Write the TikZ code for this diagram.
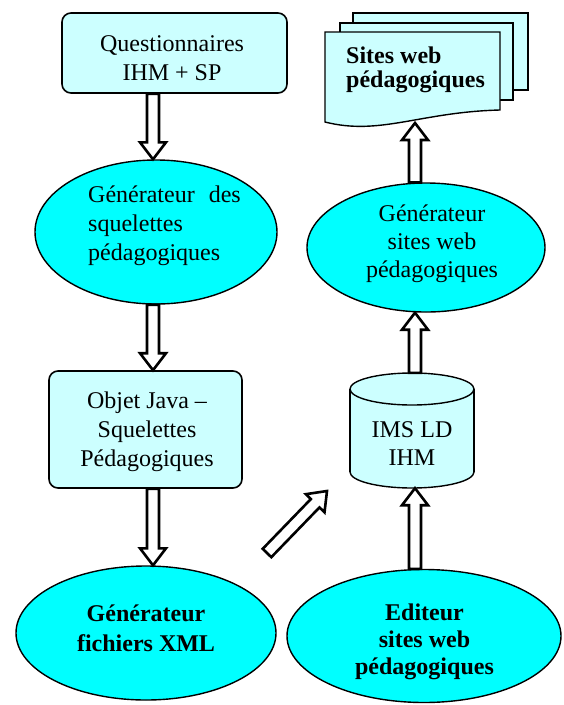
\documentclass[tikz,border=0pt]{standalone}
\usepackage{fontspec}
\setmainfont{Liberation Serif}
\usetikzlibrary{calc,shapes.geometric}
\definecolor{palecyan}{RGB}{204,255,255}
\definecolor{aqua}{RGB}{0,255,255}
\tikzset{
  box/.style={draw, line width=1.6pt, fill=palecyan, rounded corners=9pt},
  oval/.style={ellipse, draw, line width=1.4pt, fill=aqua},
  page/.style={draw, line width=1.4pt, fill=palecyan},
  txt/.style={font=\fontsize{24}{29}\selectfont, align=center, inner sep=0pt},
  bold/.style={txt, font=\fontsize{24}{28}\selectfont\bfseries},
  hollow/.style={draw, line width=2.6pt, fill=white, miter limit=20,
    to path={
      -- ($(\tikztostart)!6pt!90:(\tikztotarget)$)
      -- ($(\tikztotarget)!17pt!(\tikztostart)!6pt!90:(\tikztotarget)$)
      -- ($(\tikztotarget)!17pt!(\tikztostart)!13pt!90:(\tikztotarget)$)
      -- (\tikztotarget)
      -- ($(\tikztotarget)!17pt!(\tikztostart)!13pt!-90:(\tikztotarget)$)
      -- ($(\tikztotarget)!17pt!(\tikztostart)!6pt!-90:(\tikztotarget)$)
      -- ($(\tikztostart)!6pt!-90:(\tikztotarget)$)
      -- cycle}}
}
\begin{document}
\begin{tikzpicture}[x=1pt,y=-1pt]
  \useasboundingbox (0,0) rectangle (563,705);
  \coordinate (lcol) at (153,0);
  \coordinate (rcol) at (415,0);

  \node[box, minimum width=225pt, minimum height=80pt] (q) at (174.5,53) {};
  \node[oval, minimum width=242pt, minimum height=144pt] (gsq) at (156,232) {};
  \node[box, minimum width=193pt, minimum height=117pt] (oj) at (145.5,429.5) {};
  \node[oval, minimum width=260pt, minimum height=134pt] (gx) at (146,633) {};
  \node[oval, minimum width=274pt, minimum height=133pt] (ed) at (424,636) {};
  \node[oval, minimum width=238pt, minimum height=129pt] (gw) at (426,247.5) {};

  \draw[page] (412,472) ellipse (62 and 16);
  \fill[palecyan] (350,389) rectangle (474,472);
  \draw[line width=1.4pt] (350,389) -- (350,472) (474,389) -- (474,472);
  \draw[page] (412,389) ellipse (62 and 16);
  \node[minimum width=124pt, minimum height=115pt] (ims) at (412,430.5) {};

  \draw[page] (353,13) rectangle (528,90);
  \draw[page] (340,23) rectangle (513,100);
  \draw[page] (325,122) -- (325,32) -- (500,32) -- (500,110)
    .. controls (420,112) and (380,136) .. (325,122) -- cycle;
  \coordinate (sw) at (415,123);

  \node[txt] (q-t) at (172,58) {Questionnaires\\IHM + SP};
  \node[txt, align=left, anchor=west] (gsq-t) at (88,226) {Générateur\hspace{14pt}des\\squelettes\\pédagogiques};
  \node[txt] (oj-t) at (147,432) {Objet Java –\\Squelettes\\Pédagogiques};
  \node[bold, font=\fontsize{24}{30}\selectfont\bfseries] (gx-t) at (146,628) {Générateur\\fichiers XML};
  \node[bold, font=\fontsize{24}{27}\selectfont\bfseries] (ed-t) at (424.5,642) {Editeur\\sites web\\pédagogiques};
  \node[txt, font=\fontsize{24}{28}\selectfont] (ims-t) at (412,444) {IMS LD\\IHM};
  \node[txt, font=\fontsize{24}{28}\selectfont] (gw-t) at (432,244) {Générateur\\sites web\\pédagogiques};
  \node[bold, font=\fontsize{24}{24}\selectfont\bfseries, align=left, anchor=west] (sw-t) at (346,70) {Sites web\\pédagogiques};

  \draw[hollow] (q.south -| lcol) to (gsq.north -| lcol);
  \draw[hollow] (gsq.south -| lcol) to (oj.north -| lcol);
  \draw[hollow] (oj.south -| lcol) to (gx.north -| lcol);
  \draw[hollow] (ed.north -| rcol) to (ims.south -| rcol);
  \draw[hollow] (ims.north -| rcol) to (gw.south -| rcol);
  \draw[hollow] (gw.north -| rcol) to (sw);
  \coordinate (dtail) at (267,553);
  \coordinate (dtip) at (327,491);
  \draw[hollow] (dtail) to (dtip);
\end{tikzpicture}
\end{document}
